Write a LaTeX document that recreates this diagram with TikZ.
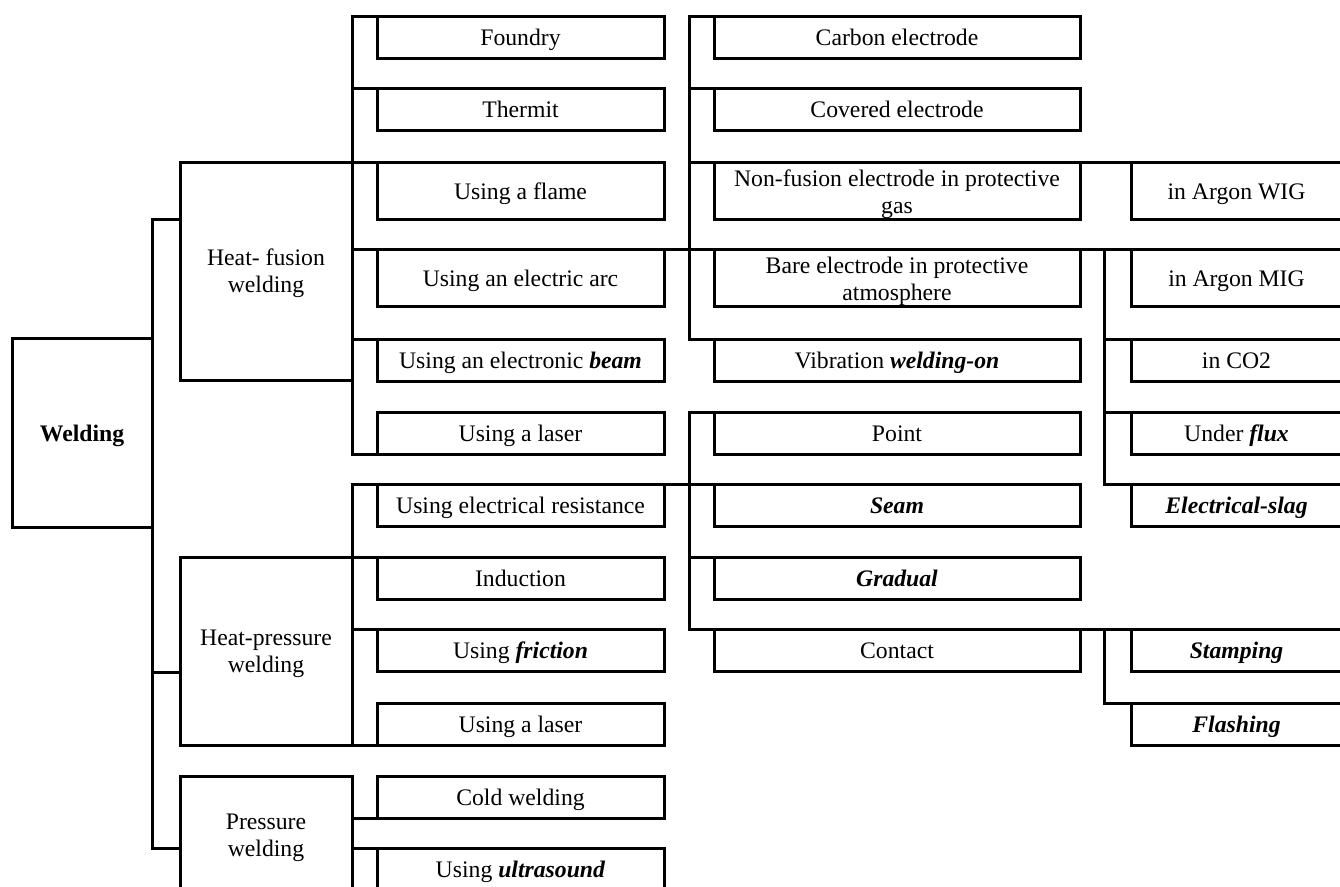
\documentclass[tikz,border=0pt]{standalone}
\usepackage{fontspec}
\setmainfont{Liberation Serif}
\begin{document}
\begin{tikzpicture}[x=1pt,y=-1pt,
  box/.style={draw, line width=3pt, anchor=north west, inner sep=0pt, outer sep=0pt,
    align=center, font=\fontsize{23.7}{27}\selectfont},
  one/.style={text height=20pt, text depth=3pt},
  colA/.style={box, minimum width=287pt},
  colB/.style={box, minimum width=366pt},
  colC/.style={box, minimum width=211pt},
  grp/.style={box, minimum width=172pt},
  hone/.style={minimum height=42pt},
  htwo/.style={minimum height=57pt},
  link/.style={line width=3pt, line cap=rect}]
\useasboundingbox (0,0) rectangle (1340,886);

% root and groups
\node[box, one, minimum width=140pt, minimum height=189pt] (weld) at (12,338) {\textbf{Welding}};
\node[grp, minimum height=218pt] (hf) at (180,162) {\rule{0pt}{21pt}Heat- fusion\\welding};
\node[grp, minimum height=188pt] (hp) at (180,557) {\rule{0pt}{21pt}Heat-pressure\\welding};
\node[grp, minimum height=118pt] (pw) at (180,776) {\rule{0pt}{21pt}Pressure\\welding};

% column A
\node[colA, hone, one] (foundry) at (377,16) {Foundry};
\node[colA, hone, one] (thermit) at (377,88) {Thermit};
\node[colA, htwo, one] (flame) at (377,162) {Using a flame};
\node[colA, htwo, one] (arc) at (377,249) {Using an electric arc};
\node[colA, hone, one] (beam) at (377,339) {Using an electronic \textbf{\textit{beam}}};
\node[colA, hone, one] (laserA) at (377,412) {Using a laser};
\node[colA, hone, one] (resist) at (377,484) {Using electrical resistance};
\node[colA, hone, one] (induct) at (377,557) {Induction};
\node[colA, hone, one] (friction) at (377,629) {Using \textbf{\textit{friction}}};
\node[colA, hone, one] (laserB) at (377,703) {Using a laser};
\node[colA, hone, one] (cold) at (377,776) {Cold welding};
\node[colA, hone, one] (ultra) at (377,848) {Using \textbf{\textit{ultrasound}}};

% column B
\node[colB, hone, one] (carbon) at (714,16) {Carbon electrode};
\node[colB, hone, one] (covered) at (714,88) {Covered electrode};
\node[colB, htwo] (nonfus) at (714,162) {\rule{0pt}{24pt}Non-fusion electrode in protective\\gas};
\node[colB, htwo] (bare) at (714,249) {\rule{0pt}{24pt}Bare electrode in protective\\atmosphere};
\node[colB, hone, one] (vibr) at (714,339) {Vibration \textbf{\textit{welding-on}}};
\node[colB, hone, one] (point) at (714,412) {Point};
\node[colB, hone, one] (seam) at (714,484) {\textbf{\textit{Seam}}};
\node[colB, hone, one] (gradual) at (714,557) {\textbf{\textit{Gradual}}};
\node[colB, hone, one] (contact) at (714,629) {Contact};

% column C
\node[colC, htwo, one] (wig) at (1131,162) {in Argon WIG};
\node[colC, htwo, one] (mig) at (1131,249) {in Argon MIG};
\node[colC, hone, one] (co2) at (1131,339) {in CO2};
\node[colC, hone, one] (flux) at (1131,412) {Under \textbf{\textit{flux}}};
\node[colC, hone, one] (slag) at (1131,484) {\textbf{\textit{Electrical-slag}}};
\node[colC, hone, one] (stamp) at (1131,629) {\textbf{\textit{Stamping}}};
\node[colC, hone, one] (flash) at (1131,703) {\textbf{\textit{Flashing}}};

% bracket ends
\coordinate (wt) at (152,219);
\coordinate (wm) at (152,672);
\coordinate (wb) at (152,848);
\coordinate (at) at (352,16);
\coordinate (ab) at (352,454);
\coordinate (pt) at (352,484);
\coordinate (bt) at (689,16);
\coordinate (bb) at (689,339);
\coordinate (ct) at (689,412);
\coordinate (cb) at (689,629);
\coordinate (dt) at (1104,249);
\coordinate (db) at (1104,484);
\coordinate (et) at (1104,629);
\coordinate (eb) at (1104,703);

% Welding bracket
\draw[link] (wt) -- (wb);
\draw[link] (wt) -- (wt -| hf.west);
\draw[link] (wm) -- (wm -| hp.west);
\draw[link] (wb) -- (wb -| pw.west);

% Heat-fusion bracket
\draw[link] (at) -- (ab);
\draw[link] (at) -- (foundry.north west);
\draw[link] (thermit.north west -| at) -- (thermit.north west);
\draw[link] (hf.north east) -- (flame.north west);
\draw[link] (arc.north west -| at) -- (arc.north west);
\draw[link] (arc.north east) -- (bare.north west);
\draw[link] (bare.north east) -- (mig.north west);
\draw[link] (beam.north west -| at) -- (beam.north west);
\draw[link] (ab) -- (laserA.south west);

% Heat-pressure bracket
\draw[link] (pt) -- (hp.south east);
\draw[link] (pt) -- (resist.north west);
\draw[link] (resist.north east) -- (seam.north west);
\draw[link] (hp.north east) -- (induct.north west);
\draw[link] (friction.north west -| pt) -- (friction.north west);
\draw[link] (hp.south east) -- (laserB.south west);

% Pressure bracket
\draw[link] (cold.south west -| pw.east) -- (cold.south west);
\draw[link] (ultra.north west -| pw.east) -- (ultra.north west);

% arc electrodes bracket
\draw[link] (bt) -- (bb);
\draw[link] (bt) -- (carbon.north west);
\draw[link] (covered.north west -| bt) -- (covered.north west);
\draw[link] (nonfus.north west -| bt) -- (nonfus.north west);
\draw[link] (nonfus.north east) -- (wig.north west);
\draw[link] (bb) -- (vibr.north west);

% resistance bracket
\draw[link] (ct) -- (cb);
\draw[link] (ct) -- (point.north west);
\draw[link] (gradual.north west -| ct) -- (gradual.north west);
\draw[link] (cb) -- (contact.north west);
\draw[link] (contact.north east) -- (stamp.north west);

% atmosphere bracket
\draw[link] (dt) -- (db);
\draw[link] (co2.north west -| dt) -- (co2.north west);
\draw[link] (flux.north west -| dt) -- (flux.north west);
\draw[link] (db) -- (slag.north west);

% contact bracket
\draw[link] (et) -- (eb);
\draw[link] (eb) -- (flash.north west);
\end{tikzpicture}
\end{document}
